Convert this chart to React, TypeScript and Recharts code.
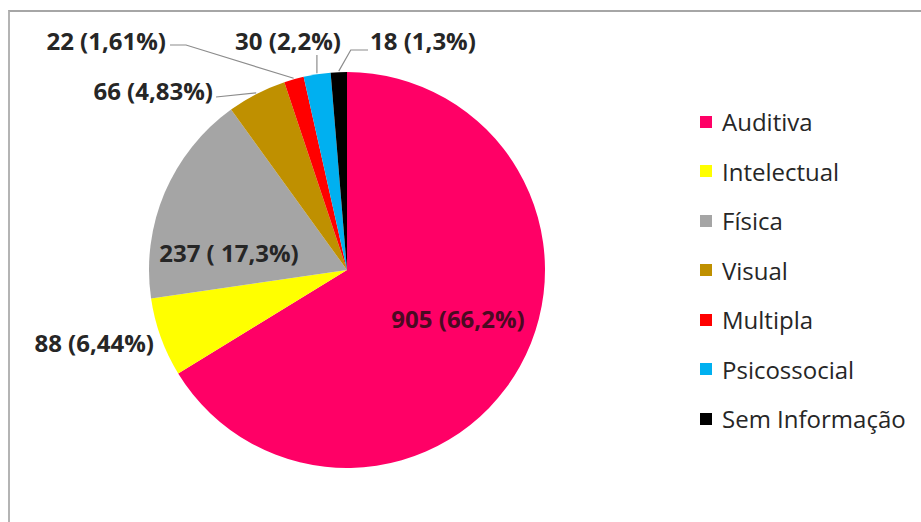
import { PieChart, Pie, Cell, Legend } from "recharts";

// values
const categories = [
  "Auditiva",
  "Intelectual",
  "Física",
  "Visual",
  "Multipla",
  "Psicossocial",
  "Sem Informação",
];
const counts = [905, 88, 237, 66, 22, 30, 18];
const percentTexts = ["66,2%", "6,44%", " 17,3%", "4,83%", "1,61%", "2,2%", "1,3%"];
const colors = ["#ff0066", "#ffff00", "#a5a5a5", "#bf9000", "#ff0000", "#00b0f0", "#000000"];

const data = categories.map((name, i) => ({ name, value: counts[i], pct: percentTexts[i] }));

const RADIAN = Math.PI / 180;
const CX = 347;
const CY = 270;
const R = 198;

type Spot = {
  dx: number;
  dy: number;
  anchor: "start" | "middle" | "end";
  leader?: "flat" | "bent" | "up" | "elbow";
  fill?: string;
};

// where each data label sits, relative to the pie centre
const labelSpots: Spot[] = [
  { dx: 111, dy: 48, anchor: "middle", fill: "#4a0a22" },
  { dx: -193, dy: 72, anchor: "end" },
  { dx: -118, dy: -18, anchor: "middle" },
  { dx: -134, dy: -180, anchor: "end", leader: "flat" },
  { dx: -181, dy: -230, anchor: "end", leader: "bent" },
  { dx: -59, dy: -230, anchor: "middle", leader: "up" },
  { dx: 23, dy: -230, anchor: "start", leader: "elbow" },
];

function renderLabel(props: any) {
  const { cx, cy, midAngle, outerRadius, index, value, payload } = props;
  const spot = labelSpots[index];
  const lx = cx + spot.dx;
  const ly = cy + spot.dy;
  const ex = cx + (outerRadius + 1) * Math.cos(-midAngle * RADIAN);
  const ey = cy + (outerRadius + 1) * Math.sin(-midAngle * RADIAN);
  let pts: number[][] = [];
  if (spot.leader === "flat") pts = [[lx + 3, ly + 7], [ex, ey]];
  if (spot.leader === "bent") pts = [[lx + 4, ly + 5], [lx + 20, ly + 5], [ex, ey]];
  if (spot.leader === "up") pts = [[ex, ey], [ex, ly + 15]];
  if (spot.leader === "elbow") pts = [[ex, ey], [ex + 12, ly + 10], [lx - 2, ly + 10]];
  return (
    <g key={`lbl-${index}`}>
      {pts.length > 0 && (
        <polyline
          points={pts.map((p) => p.join(",")).join(" ")}
          fill="none"
          stroke="#8c8c8c"
          strokeWidth={1.2}
        />
      )}
      <text
        x={lx}
        y={ly}
        textAnchor={spot.anchor}
        dominantBaseline="central"
        fontFamily="'Open Sans', sans-serif"
        fontWeight={700}
        fontSize={24}
        fill={spot.fill ?? "#262626"}
      >
        {`${value} (${payload.pct})`}
      </text>
    </g>
  );
}

function renderLegend(props: any) {
  const payload = [...(props.payload || [])].sort(
    (a: any, b: any) => categories.indexOf(a.value) - categories.indexOf(b.value)
  );
  return (
    <ul style={{ listStyle: "none", margin: 0, padding: 0 }}>
      {payload.map((entry: any, i: number) => (
        <li
          key={`leg-${i}`}
          style={{
            display: "flex",
            alignItems: "center",
            height: 49.5,
            fontFamily: "'Open Sans', sans-serif",
            fontSize: 24,
            color: "#262626",
            whiteSpace: "nowrap",
          }}
        >
          <span
            style={{
              display: "inline-block",
              width: 12,
              height: 12,
              marginRight: 10,
              background: colors[categories.indexOf(entry.value)] ?? entry.color,
            }}
          />
          {entry.value}
        </li>
      ))}
    </ul>
  );
}

export default function App() {
  return (
    <div style={{ position: "fixed", left: 0, top: 0, width: 921, height: 522, background: "#fff" }}>
      <div
        style={{
          position: "absolute",
          left: 8,
          top: 10,
          width: 913,
          height: 512,
          borderTop: "2px solid #a6a6a6",
          borderLeft: "2px solid #b4b4b4",
          boxSizing: "border-box",
        }}
      />
      <div style={{ position: "absolute", left: 0, top: 0 }}>
        <PieChart width={921} height={522} margin={{ top: 0, right: 0, bottom: 0, left: 0 }}>
          <Pie
            data={data}
            dataKey="value"
            nameKey="name"
            cx={CX}
            cy={CY}
            outerRadius={R}
            startAngle={90}
            endAngle={-270}
            stroke="none"
            label={renderLabel}
            labelLine={false}
            isAnimationActive={false}
          >
            {data.map((d, i) => (
              <Cell key={d.name} fill={colors[i]} />
            ))}
          </Pie>
          <Legend
            layout="vertical"
            align="right"
            verticalAlign="top"
            itemSorter={null}
            content={renderLegend}
            wrapperStyle={{ left: 700, top: 97, width: 221 }}
          />
        </PieChart>
      </div>
    </div>
  );
}
